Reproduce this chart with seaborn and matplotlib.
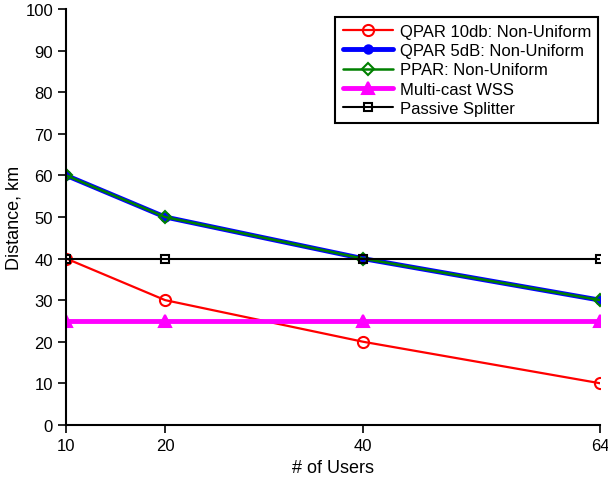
import pandas as pd
import seaborn as sns
import matplotlib.pyplot as plt

users = [10, 20, 40, 64]
qpar10 = [40, 30, 20, 10]
qpar5 = [60, 50, 40, 30]
ppar = [60, 50, 40, 30]
wss = [25, 25, 25, 25]
splitter = [40, 40, 40, 40]

labels = ['QPAR 10db: Non-Uniform', 'QPAR 5dB: Non-Uniform', 'PPAR: Non-Uniform',
          'Multi-cast WSS', 'Passive Splitter']
series = [qpar10, qpar5, ppar, wss, splitter]

sns.set_style('ticks')
plt.rcParams['font.family'] = ['Liberation Sans', 'DejaVu Sans']
plt.rcParams['text.color'] = 'black'
plt.rcParams['axes.labelcolor'] = 'black'

fig = plt.figure(figsize=(6.08, 4.85), dpi=100)
ax = fig.add_axes([0.109, 0.122, 0.878, 0.857])

# one style per series: colour, marker, facecolor, linewidth, markersize
styles = [
    ('#ff0000', 'o', 'none', 1.6, 8),
    ('#0000ff', 'o', '#0000ff', 3.5, 6),
    ('#008000', 'D', 'none', 1.8, 6),
    ('#ff00ff', '^', '#ff00ff', 3.5, 8),
    ('#000000', 's', 'none', 1.5, 6),
]

for vals, lab, (c, m, fc, lw, ms) in zip(series, labels, styles):
    df = pd.DataFrame({'users': users, 'dist': vals})
    sns.lineplot(data=df, x='users', y='dist', ax=ax, color=c, marker=m,
                 markerfacecolor=fc, markeredgecolor=c, markeredgewidth=1.5,
                 linewidth=lw, markersize=ms, label=lab)

ax.set_xlim(10, 64)
ax.set_ylim(0, 100)
ax.set_xticks(users)
ax.set_yticks(range(0, 101, 10))
ax.tick_params(direction='out', length=6, width=1.2, labelsize=12,
               colors='black', labelcolor='black')
for s in ['left', 'bottom']:
    ax.spines[s].set_linewidth(1.5)
    ax.spines[s].set_color('black')
sns.despine(ax=ax)
ax.set_xlabel('# of Users', fontsize=13)
ax.set_ylabel('Distance, km', fontsize=13, labelpad=2)

leg = ax.legend(loc='upper right', fontsize=12, frameon=True, fancybox=False,
                edgecolor='black', framealpha=1, handlelength=3, borderpad=0.45,
                labelspacing=0.25, handletextpad=0.4, borderaxespad=0,
                bbox_to_anchor=(0.997, 0.982))
leg.get_frame().set_linewidth(1.5)
for t in leg.get_texts():
    t.set_color('black')

fig.savefig('out.png', dpi=100)
